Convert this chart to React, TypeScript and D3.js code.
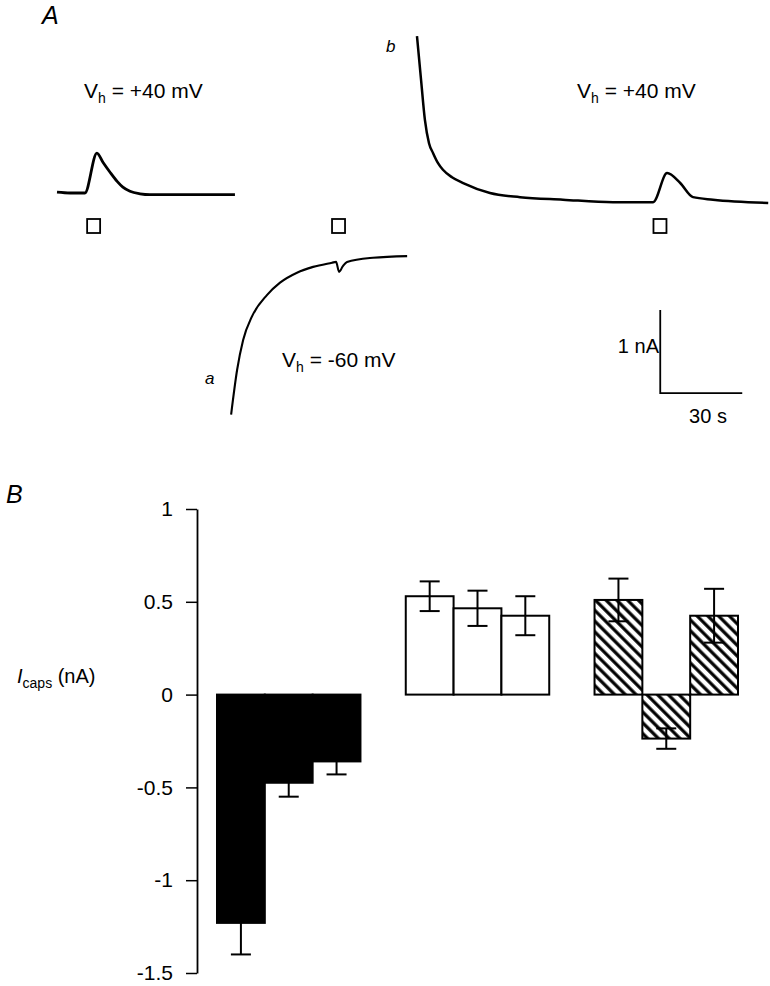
import React, { useEffect, useRef } from 'react'
import * as d3 from 'd3'

// panel A traces: time (s), current (nA)
const trace1T = [0, 4.8, 10.2, 14.6, 16.8, 19.4, 22.0, 24.1, 26.7, 30.4, 34.0, 45, 65.1]
const trace1I = [0.01, 0, 0, 0.48, 0.37, 0.25, 0.14, 0.07, 0.02, -0.01, -0.02, -0.02, -0.02]

const traceAT = [63.7, 65.9, 68.1, 71.3, 76.8, 81.6, 87.8, 93.7, 100.6, 102.1, 103.2, 104.6, 106.1, 115.6, 128.1]
const traceAI = [-2.67, -2.13, -1.77, -1.49, -1.23, -1.08, -0.96, -0.89, -0.84, -0.83, -0.95, -0.88, -0.83, -0.78, -0.76]

const traceBT = [131.7, 133.2, 134.6, 136.1, 137.6, 139.4, 141.2, 144.5, 148.6, 158.4, 169.4, 185.1, 203.4, 218.1, 223.2, 228.0, 232.7, 240.0, 260.2]
const traceBI = [1.89, 1.36, 0.88, 0.6, 0.48, 0.36, 0.28, 0.19, 0.12, 0.0, -0.05, -0.08, -0.11, -0.11, 0.24, 0.12, -0.05, -0.08, -0.12]

// capsaicin applications (s)
const stimTimes = [13.4, 103, 220.6]

// panel B
const groups = ['black', 'white', 'hatch']
const barMeans = [
  [-1.23, -0.475, -0.36],
  [0.53, 0.465, 0.425],
  [0.51, -0.237, 0.425],
]
const barErrors = [
  [0.17, 0.075, 0.07],
  [0.08, 0.095, 0.105],
  [0.115, 0.055, 0.145],
]
const yTicks = [1, 0.5, 0, -0.5, -1, -1.5]

const W = 770
const H = 986
const FONT = 'Liberation Sans, Arial, sans-serif'

export default function App() {
  const axisRef = useRef<SVGGElement>(null)

  // panel A scales (30 s = 82 px, 1 nA = 83 px)
  const xA = d3.scaleLinear().domain([0, 30]).range([57, 57 + 82])
  const yA = d3.scaleLinear().domain([0, 1]).range([193, 110])

  const zip = (t: number[], v: number[]) => t.map((d, i) => [d, v[i]] as [number, number])
  const smooth = d3.line<[number, number]>().x(d => xA(d[0])).y(d => yA(d[1])).curve(d3.curveMonotoneX)

  // panel B scales
  const y = d3.scaleLinear().domain([-1.5, 1]).range([973, 509])
  const xGroup = d3.scaleBand().domain(groups).range([217, 738]).paddingInner(0.24).paddingOuter(0)
  const xBar = d3.scaleBand().domain(['0', '1', '2']).range([0, xGroup.bandwidth()])

  useEffect(() => {
    const g = d3.select(axisRef.current)
    g.selectAll('*').remove()
    g.call(d3.axisLeft(y).tickValues(yTicks).tickSize(11).tickSizeOuter(0).tickFormat(d => String(d)))
    g.select('.domain').attr('stroke', '#000').attr('stroke-width', 1.8)
    g.selectAll('.tick line').attr('stroke', '#000').attr('stroke-width', 1.5)
    g.selectAll('.tick text')
      .attr('x', -24)
      .attr('font-size', 21)
      .attr('font-family', FONT)
      .attr('fill', '#000')
  }, [])

  const vh = (x: number, yy: number, val: string) => (
    <text x={x} y={yy} fontSize={21} fontFamily={FONT}>
      V<tspan fontSize={14} dy={5}>h</tspan><tspan dy={-5}> = {val} mV</tspan>
    </text>
  )

  return (
    <svg width={W} height={H} style={{ position: 'absolute', left: 0, top: 0, background: '#fff' }}>
      <defs>
        <pattern id="hatch" patternUnits="userSpaceOnUse" width={7.6} height={7.6} patternTransform="rotate(-45)">
          <rect width={7.6} height={7.6} fill="#fff" />
          <line x1={1.8} y1={0} x2={1.8} y2={7.6} stroke="#000" strokeWidth={3.2} />
        </pattern>
      </defs>

      {/* panel A */}
      <text x={42} y={24} fontSize={25} fontStyle="italic" fontFamily={FONT}>A</text>
      {vh(84, 98, '+40')}
      {vh(577, 98, '+40')}
      {vh(282, 367, '-60')}
      <text x={386} y={52} fontSize={17} fontStyle="italic" fontFamily={FONT}>b</text>
      <text x={205} y={384} fontSize={17} fontStyle="italic" fontFamily={FONT}>a</text>

      <path d={smooth(zip(trace1T, trace1I)) || ''} fill="none" stroke="#000" strokeWidth={2.8} strokeLinejoin="round" />
      <path d={smooth(zip(traceAT, traceAI)) || ''} fill="none" stroke="#000" strokeWidth={2.1} />
      <path d={smooth(zip(traceBT, traceBI)) || ''} fill="none" stroke="#000" strokeWidth={2.5} />

      {stimTimes.map((t, i) => (
        <rect key={i} x={xA(t) - 6.5} y={219} width={13} height={14} fill="#fff" stroke="#000" strokeWidth={1.8} />
      ))}

      {/* scale bars */}
      <path d={`M${xA(220.7)},${yA(-1.41)}V${yA(-2.41)}H${xA(250.7)}`} fill="none" stroke="#000" strokeWidth={1.8} />
      <text x={659} y={353} fontSize={20} textAnchor="end" fontFamily={FONT}>1 nA</text>
      <text x={708} y={423} fontSize={20} textAnchor="middle" fontFamily={FONT}>30 s</text>

      {/* panel B */}
      <text x={6} y={503} fontSize={25} fontStyle="italic" fontFamily={FONT}>B</text>
      <text x={17} y={683} fontSize={20} fontFamily={FONT}>
        <tspan fontStyle="italic">I</tspan>
        <tspan fontSize={14} dy={5}>caps</tspan>
        <tspan dy={-5}> (nA)</tspan>
      </text>

      <g ref={axisRef} transform="translate(197,0)" />

      {groups.map((grp, gi) => (
        <g key={grp} transform={`translate(${xGroup(grp)},0)`}>
          {barMeans[gi].map((v, i) => {
            const x0 = xBar(String(i)) as number
            const bw = xBar.bandwidth()
            const top = y(Math.max(0, v))
            const h = Math.abs(y(v) - y(0))
            const cx = x0 + bw / 2
            const e = barErrors[gi][i]
            return (
              <g key={i}>
                <rect
                  x={x0} y={top} width={bw} height={h}
                  fill={grp === 'black' ? '#000' : grp === 'white' ? '#fff' : 'url(#hatch)'}
                  stroke="#000" strokeWidth={2}
                />
                <line x1={cx} x2={cx} y1={y(v + e)} y2={y(v - e)} stroke="#000" strokeWidth={2} />
                <line x1={cx - 10} x2={cx + 10} y1={y(v + e)} y2={y(v + e)} stroke="#000" strokeWidth={2} />
                <line x1={cx - 10} x2={cx + 10} y1={y(v - e)} y2={y(v - e)} stroke="#000" strokeWidth={2} />
              </g>
            )
          })}
        </g>
      ))}
    </svg>
  )
}
